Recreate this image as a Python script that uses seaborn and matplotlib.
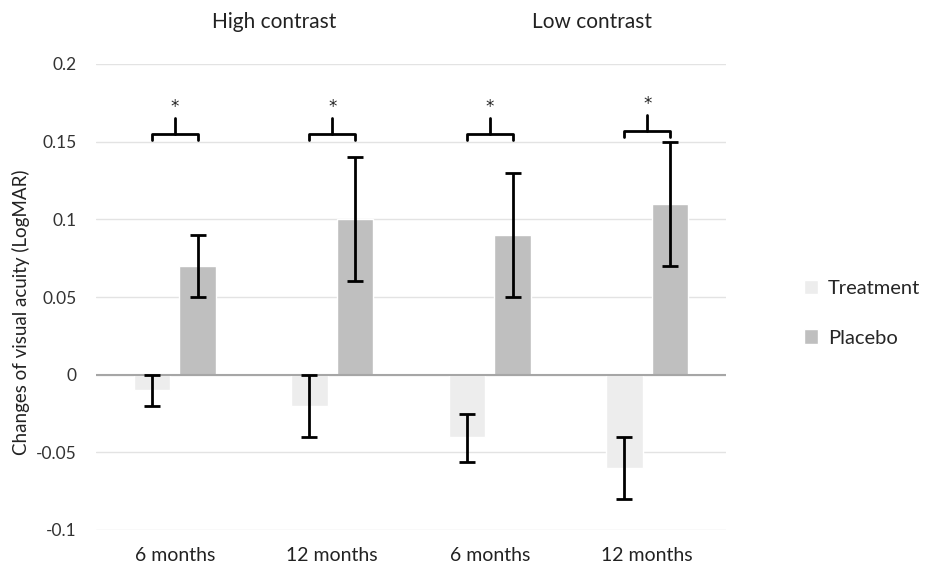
import matplotlib
matplotlib.use("Agg")
import matplotlib.pyplot as plt
import seaborn as sns
import pandas as pd
import numpy as np

categories = ["6 months", "12 months", "6 months ", "12 months "]
tick_labels = ["6 months", "12 months", "6 months", "12 months"]
groups = ["Treatment", "Placebo"]
treatment = [-0.01, -0.02, -0.04, -0.06]
placebo = [0.07, 0.10, 0.09, 0.11]
treatment_err_low = [0.01, 0.02, 0.016, 0.02]
treatment_err_high = [0.01, 0.02, 0.015, 0.02]
placebo_err = [0.02, 0.04, 0.04, 0.04]
contrast_labels = ["High contrast", "Low contrast"]
yticks = [-0.1, -0.05, 0, 0.05, 0.1, 0.15, 0.2]
ytick_labels = ["-0.1", "-0.05", "0", "0.05", "0.1", "0.15", "0.2"]

sns.set_theme(style="white")
plt.rcParams["font.family"] = ["Lato", "DejaVu Sans"]

df = pd.DataFrame({
    "cat": categories * 2,
    "group": [groups[0]] * 4 + [groups[1]] * 4,
    "value": treatment + placebo,
})

fig = plt.figure(figsize=(9.29, 5.69), dpi=100)
ax = fig.add_axes([96 / 929, 1 - 530 / 569, 630 / 929, 466 / 569])

sns.barplot(data=df, x="cat", y="value", hue="group", order=categories,
            hue_order=groups, palette=["#EDEDED", "#BFBFBF"], width=0.58,
            gap=0.2, errorbar=None, ax=ax, legend=True)

# error bars at bar centers
pt = ax.patches[:4]
pp = ax.patches[4:8]
tx = [p.get_x() + p.get_width() / 2 for p in pt]
px = [p.get_x() + p.get_width() / 2 for p in pp]
ax.errorbar(tx, treatment, yerr=[treatment_err_low, treatment_err_high], fmt="none",
            ecolor="black", elinewidth=2, capsize=6, capthick=2, zorder=5)
ax.errorbar(px, placebo, yerr=placebo_err, fmt="none",
            ecolor="black", elinewidth=2, capsize=6, capthick=2, zorder=5)

# significance brackets
for i in range(4):
    x0, x1 = tx[i], px[i]
    xm = (x0 + x1) / 2
    base = 0.151 if i < 3 else 0.153
    top = base + 0.004
    ax.plot([x0, x0, x1, x1], [base, top, top, base], color="black", lw=2,
            solid_joinstyle="round", zorder=6, clip_on=False)
    ax.plot([xm, xm], [top, top + 0.010], color="black", lw=2, zorder=6, clip_on=False)
    ax.text(xm, top + 0.0175, "*", ha="center", va="center", fontsize=12,
            family="DejaVu Sans", color="#222222")

ax.set_ylim(-0.1, 0.2)
ax.set_xlim(-0.5, 3.5)
ax.set_yticks(yticks)
ax.set_yticklabels(ytick_labels, fontsize=12.5, color="#333333")
ax.set_xticks(range(4))
ax.set_xticklabels(tick_labels, fontsize=14, color="#222222")
ax.tick_params(axis="y", length=0, pad=14)
ax.tick_params(axis="x", length=0, pad=12)
ax.set_xlabel("")
ax.set_ylabel("Changes of visual acuity (LogMAR)", fontsize=13.5, color="#222222")
ax.yaxis.set_label_coords(-0.105, 0.468)
ax.yaxis.grid(True, color="#E3E3E3", lw=1)
ax.set_axisbelow(True)
for s in ax.spines.values():
    s.set_visible(False)
ax.axhline(0, color="#A6A6A6", lw=1.5, zorder=4)

# contrast labels
for lab, xpos in zip(contrast_labels, [0.63, 2.65]):
    ax.text(xpos, 1.09, lab, transform=ax.get_xaxis_transform(),
            ha="center", va="center", fontsize=15, color="#222222")

leg = ax.legend(loc="center left", bbox_to_anchor=(1.095, 0.465), frameon=False,
                fontsize=14.5, handlelength=0.7, handleheight=0.7, labelspacing=1.6,
                handletextpad=0.5)

fig.savefig("out.png", dpi=100)
